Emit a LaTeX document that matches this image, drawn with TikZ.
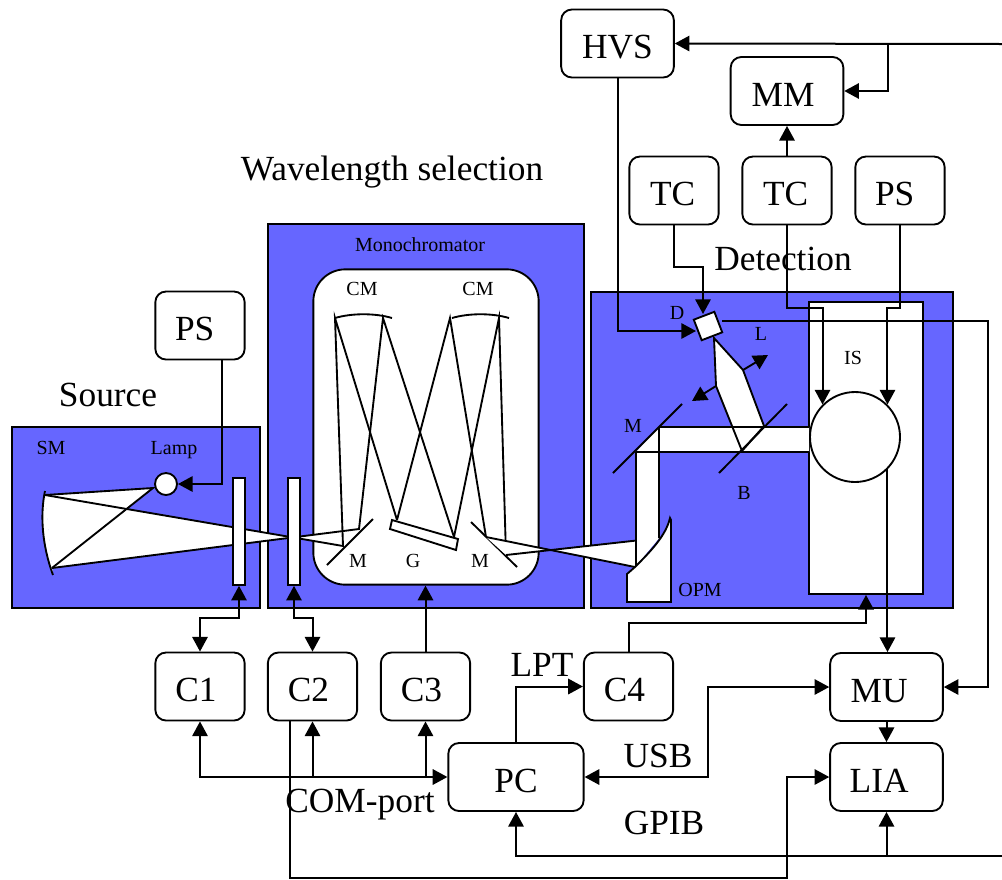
\documentclass[tikz,border=0pt]{standalone}
\usepackage{fontspec}
\setmainfont{Liberation Serif}
\usetikzlibrary{arrows.meta, calc, shapes.geometric}
\definecolor{panelblue}{RGB}{102,102,255}
\tikzset{
  biglabel/.style={font=\fontsize{26.5}{30}\selectfont, inner sep=0pt},
  smalllabel/.style={font=\fontsize{15}{17}\selectfont, inner sep=0pt},
  panel/.style={draw, fill=panelblue, line width=1.4pt},
  unitbox/.style={draw, fill=white, rounded corners=8pt, line width=1.4pt, inner sep=0pt,
    font=\fontsize{26.5}{30}\selectfont, text height=22.5pt, text depth=0pt,
    minimum width=67pt, minimum height=51pt},
  widebox/.style={unitbox, minimum width=84.5pt},
  pcbox/.style={unitbox, minimum width=101.5pt},
  plate/.style={draw, fill=white, line width=1.4pt, minimum width=8.5pt, minimum height=80pt, inner sep=0pt},
  ray/.style={line width=1.4pt},
  wire/.style={line width=1.5pt},
}
\begin{document}
\begin{tikzpicture}[x=0.75pt, y=-0.75pt, >={Triangle[length=11pt, width=11.5pt]}]
  \useasboundingbox (0,0) rectangle (1002,879);
  % --- Panels ---
  \path[panel] (12,427) rectangle (260,608);
  \path[panel] (268,224) rectangle (584,608);
  \path[panel] (591,292) rectangle (953,608);
  \node[biglabel] (wavelabel) at (392,172) {Wavelength selection};
  \node[biglabel] (sourcelabel) at (108,395) {Source};
  \node[biglabel] (detlabel) at (783,259) {Detection};
  \node[smalllabel] (monolabel) at (420,245) {Monochromator};

  % --- Source ---
  \filldraw[fill=white, ray] (45,491) .. controls (40,515) and (42,545) .. (53,575);
  \fill[white] (45,495) -- (153,488) -- (52,568) -- (290,537) -- cycle;
  \node[smalllabel] (smlabel) at (51,448) {SM};
  \node[smalllabel] (lamplabel) at (174,450) {Lamp};
  \node[draw, circle, fill=white, minimum size=16.5pt, inner sep=0pt, line width=1.4pt] (lamp) at (166,484) {};

  % --- Monochromator ---
  \node[draw, fill=white, rounded corners=24pt, line width=1.4pt, minimum width=169pt, minimum height=236.5pt, inner sep=0pt] (mono) at (426,427) {};
  \fill[white] (52,568) -- (359,529) -- (343,546) -- (45,495) -- cycle;
  \draw[ray] (45,495) -- (153,488) -- (52,568);
  \draw[ray] (45,495) -- (343,546) -- (335,318) -- (397,520);
  \draw[ray] (52,568) -- (359,529) -- (383,318) -- (454,537);
  \draw[ray] (397,520) -- (450,318) -- (486,537);
  \draw[ray] (454,537) -- (499,318) -- (506,555);
  \draw[ray] (335,318) .. controls (352,313) and (375,313) .. (392,318);
  \draw[ray] (452,318) .. controls (469,313) and (492,313) .. (509,318);
  \draw[ray] (327,565) -- (373,519);
  \draw[ray] (471,522) -- (517,567);
  \filldraw[fill=white, ray] (392,520) -- (458,539) -- (456,550) -- (390,529) -- cycle;
  \node[smalllabel] (cmleft) at (362,289) {CM};
  \node[smalllabel] (cmright) at (478,289) {CM};
  \node[smalllabel] (mleft) at (358,561) {M};
  \node[smalllabel] (glabel) at (413,561) {G};
  \node[smalllabel] (mright) at (480,561) {M};
  \node[plate] (plateone) at (239,531.5) {};
  \node[plate] (platetwo) at (294,531.5) {};

  % --- Detection ---
  \node[draw, fill=white, line width=1.4pt, minimum width=85pt, minimum height=219pt, inner sep=0pt] (isbox) at (866,448) {};
  \fill[white] (486,537) -- (635,567) -- (659,538) -- (506,555) -- cycle;
  \draw[ray] (486,537) -- (635,567);
  \draw[ray] (506,555) -- (659,538);
  \fill[white] (636,452) -- (659,427) -- (809,427) -- (809,452) -- (659,452) -- (659,538) -- (635,567) -- cycle;
  \filldraw[fill=white, ray] (714,338) -- (743,370) -- (764,426) -- (742,451) -- (716,386) -- cycle;
  \draw[ray] (659,427) -- (809,427);
  \draw[ray] (636,452) -- (809,452);
  \draw[ray] (636,452) -- (636,567);
  \draw[ray] (659,427) -- (659,538);
  \filldraw[fill=white, ray] (627,574) -- (627,602) -- (671,602) -- (671,520) -- (670,518)
    .. controls (666,535) and (652,550) .. (635,567) -- cycle;
  \draw[ray] (613,473) -- (682,404);
  \draw[ray] (719,473) -- (787,404);
  \draw[->, ray] (743,370) -- (768,355);
  \draw[->, ray] (716,386) -- (692,401);
  \node[draw, circle, fill=white, minimum size=67.5pt, inner sep=0pt, line width=1.4pt] (sphere) at (855,437) {};
  \node[draw, fill=white, rotate=21, minimum size=16.5pt, inner sep=0pt, line width=1.4pt] (det) at (708,326) {};
  \node[smalllabel] (dlabel) at (677,313) {D};
  \node[smalllabel] (llabel) at (761,334) {L};
  \node[smalllabel] (mdetlabel) at (633,426) {M};
  \node[smalllabel] (blabel) at (744,493) {B};
  \node[smalllabel] (opmlabel) at (700,590) {OPM};
  \node[smalllabel] (islabel) at (853,358) {IS};

  % --- Units ---
  \node[widebox] (hvs) at (617.5,43.5) {HVS};
  \node[widebox] (mm) at (787,91) {MM\kern6pt};
  \node[unitbox] (tcone) at (674,190.5) {TC\kern2pt};
  \node[unitbox] (tctwo) at (787,190.5) {TC\kern2pt};
  \node[unitbox] (pstwo) at (900,190.5) {PS\kern8pt};
  \node[unitbox] (psone) at (200,325.5) {PS\kern8pt};
  \node[unitbox] (cone) at (200,686.5) {C1\kern6pt};
  \node[unitbox] (ctwo) at (312.5,686.5) {C2\kern6pt};
  \node[unitbox] (cthree) at (425.5,686.5) {C3\kern6pt};
  \node[unitbox] (cfour) at (628.5,686.5) {C4\kern6pt};
  \node[pcbox] (pc) at (516,777) {PC};
  \node[widebox] (mu) at (886.5,687) {MU\kern11pt};
  \node[widebox] (lia) at (886.5,777) {LIA\kern11pt};
  \node[biglabel] (comlabel) at (360,805) {COM-port};
  \node[biglabel] (lptlabel) at (542,665) {LPT};
  \node[biglabel] (usblabel) at (658,756) {USB};
  \node[biglabel] (gpiblabel) at (664,823) {GPIB};

  % --- Free ends ---
  \coordinate (hvsin) at (1002,44);
  \coordinate (mmtap) at (888,44);
  \coordinate (gpibin) at (1002,856);
  \coordinate (psout) at (222,360);
  \coordinate (ctwoout) at (290,721);
  \coordinate (dleft) at (696,331);
  \coordinate (dtop) at (703,314);
  \coordinate (dright) at (722,321);

  % --- Wires ---
  \draw[->, wire] (psout) |- (lamp.east);
  \draw[<->, wire] (cone.north) -- ++(0,-34) -| (plateone.south);
  \draw[<->, wire] (ctwo.north) -- ++(0,-34) -| (platetwo.south);
  \draw[->, wire] (cthree.north) -- (cthree.north |- mono.south);
  \draw[<->, wire] (cone.south) |- (pc.west);
  \draw[->, wire] (ctwo.south |- pc.west) -- (ctwo.south);
  \draw[->, wire] (cthree.south |- pc.west) -- (cthree.south);
  \draw[->, wire] (pc.north) |- (cfour.west);
  \draw[<->, wire] (pc.east) -- ++(123,0) |- (mu.west);
  \draw[->, wire] (cfour.north) -- ++(0,-29) -| (isbox.south);
  \draw[->, wire] (ctwoout) -- ++(0,157) -- ++(497,0) |- (lia.west);
  \draw[->, wire] (gpibin) -| (pc.south);
  \draw[->, wire] (lia.south |- gpibin) -- (lia.south);
  \draw[->, wire] (mu.south) -- (lia.north);
  \draw[->, wire] (sphere.south east) -- (sphere.south east |- mu.north);
  \draw[->, wire] (dright) -- ++(266,0) |- (mu.east);
  \draw[->, wire] (hvsin) -- (hvs.east);
  \draw[->, wire] (mmtap) |- (mm.east);
  \draw[->, wire] (tctwo.north) -- (mm.south);
  \draw[->, wire] (hvs.south) |- (dleft);
  \draw[->, wire] (tcone.south) -- ++(0,42) -| (dtop);
  \draw[->, wire] (tctwo.south) -- ++(0,83) -| (sphere.north west);
  \draw[->, wire] (pstwo.south) -- ++(0,83) -| (sphere.north east);
\end{tikzpicture}
\end{document}
